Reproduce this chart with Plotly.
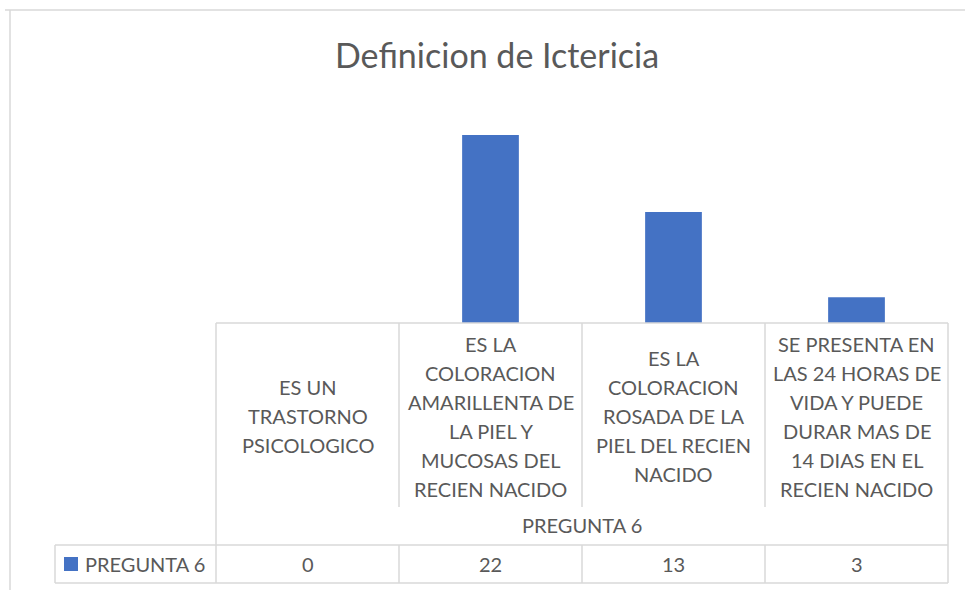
import plotly.graph_objects as go

# ---- data ----
title_text = "Definicion de Ictericia"
series_name = "PREGUNTA 6"
group_label = "PREGUNTA 6"
categories = [
    ["ES UN", "TRASTORNO", "PSICOLOGICO"],
    ["ES LA", "COLORACION", "AMARILLENTA DE", "LA PIEL Y", "MUCOSAS DEL", "RECIEN NACIDO"],
    ["ES LA", "COLORACION", "ROSADA DE LA", "PIEL DEL RECIEN", "NACIDO"],
    ["SE PRESENTA EN", "LAS 24 HORAS DE", "VIDA Y PUEDE", "DURAR MAS DE", "14 DIAS EN EL", "RECIEN NACIDO"],
]
values = [0, 22, 13, 3]

# ---- styling / layout ----
W, H = 965, 590
BAR = "#4472C4"
TXT = "#595959"
GRID = "#d9d9d9"
FONT = "Lato"

def px(x):
    return x / W

def py(y):
    return 1 - y / H

x0, x1 = 216, 948
y_base, y_top = 323, 323 - 25 * 8.545

pos = list(range(len(values)))

fig = go.Figure()
fig.add_trace(go.Bar(
    x=pos, y=values, width=0.31, marker=dict(color=BAR, line=dict(width=0)),
    name=series_name, showlegend=False, hoverinfo="y",
))

shapes = []
def line(xa, ya, xb, yb, color=GRID, w=1.5):
    shapes.append(dict(type="line", xref="paper", yref="paper",
                       x0=px(xa), y0=py(ya), x1=px(xb), y1=py(yb),
                       line=dict(color=color, width=w)))

# chart border
line(5, 10, 965, 10)
line(10, 10, 10, 590)
# table
line(x0, y_base, x1, y_base)
line(x0, y_base, x0, 583)
line(x1, y_base, x1, 583)
line(55, 545, x1, 545)
line(55, 583, x1, 583)
line(55, 545, 55, 583)
colw = (x1 - x0) / len(values)
for i in range(1, len(values)):
    xx = x0 + i * colw
    line(xx, y_base, xx, 507)
    line(xx, 545, xx, 583)

annotations = []
FS = 20
spacing = 29
center_y = 416
for i, lines in enumerate(categories):
    n = len(lines)
    for j, t in enumerate(lines):
        yy = center_y + (j - (n - 1) / 2) * spacing
        annotations.append(dict(x=i, xref="x", y=py(yy), yref="paper",
                                text=t, showarrow=False, xanchor="center", yanchor="middle",
                                font=dict(family=FONT, size=FS, color=TXT)))
annotations.append(dict(x=(len(values) - 1) / 2, xref="x", y=py(525), yref="paper",
                        text=group_label, showarrow=False, xanchor="center", yanchor="middle",
                        font=dict(family=FONT, size=FS, color=TXT)))
for i, v in enumerate(values):
    annotations.append(dict(x=i, xref="x", y=py(564), yref="paper",
                            text=str(v), showarrow=False, xanchor="center", yanchor="middle",
                            font=dict(family=FONT, size=FS, color=TXT)))
shapes.append(dict(type="rect", xref="paper", yref="paper",
                   x0=px(64), x1=px(78), y0=py(571), y1=py(557),
                   fillcolor=BAR, line=dict(width=0)))
annotations.append(dict(x=px(83), xref="paper", y=py(564), yref="paper",
                        text=series_name, showarrow=False, xanchor="left", yanchor="middle",
                        font=dict(family=FONT, size=FS, color=TXT)))
annotations.append(dict(x=px(497), xref="paper", y=py(55), yref="paper",
                        text=title_text, showarrow=False, xanchor="center", yanchor="middle",
                        font=dict(family=FONT, size=34, color=TXT)))

fig.update_layout(
    width=W, height=H,
    margin=dict(l=0, r=0, t=0, b=0),
    paper_bgcolor="white", plot_bgcolor="white",
    xaxis=dict(domain=[px(x0), px(x1)], range=[-0.5, len(values) - 0.5],
               visible=False, fixedrange=True),
    yaxis=dict(domain=[py(y_base), py(y_top)], range=[0, 25],
               visible=False, fixedrange=True),
    shapes=shapes, annotations=annotations,
    showlegend=False,
)

fig.write_html("out.html", config={"displayModeBar": False},
               post_script="document.body.style.margin='0px';document.body.style.overflow='hidden';")
